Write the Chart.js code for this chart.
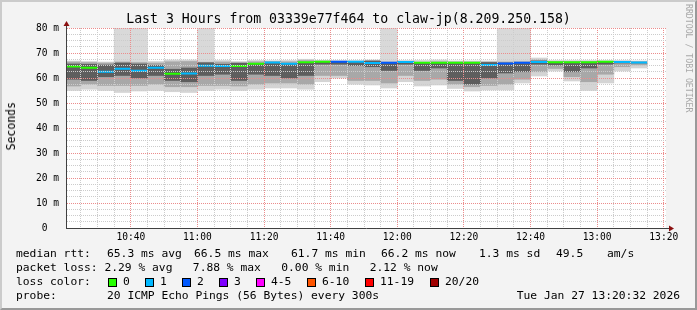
<!DOCTYPE html>
<html>
<head>
<meta charset="utf-8">
<script src="https://cdn.jsdelivr.net/npm/chart.js@4"></script>
<style>
  html, body { margin:0; padding:0; background:#f3f3f3; }
  #wrap { position:relative; width:697px; height:310px; overflow:hidden; }
  #frame { position:absolute; left:0; top:0; width:697px; height:310px; box-sizing:border-box;
           border-top:2px solid #cbcbcb; border-left:2px solid #cbcbcb;
           border-right:2px solid #999; border-bottom:2px solid #999; z-index:0; }
  canvas { position:absolute; left:0; top:0; z-index:1; }
  .t { position:absolute; z-index:2; font-family:'DejaVu Sans Mono', monospace; color:#000;
       white-space:pre; line-height:14px; }
  .lg { font-size:11.3px; }
  .sw { position:absolute; z-index:2; width:7px; height:7px; border:1px solid #000; }
</style>
</head>
<body>
<div id="wrap">
  <div id="frame"></div>
  <canvas id="c" width="697" height="310"></canvas>
  <div class="t" style="left:0;width:697px;text-align:center;top:12px;font-size:13.2px;">Last 3 Hours from 03339e77f464 to claw-jp(8.209.250.158)</div>
  <div class="t" style="left:4px;top:102px;font-size:11.5px;writing-mode:vertical-rl;transform:rotate(180deg);">Seconds</div>
  <div class="t" style="left:682px;top:4px;font-size:8.2px;color:#a8a8a8;writing-mode:vertical-rl;">RRDTOOL / TOBI OETIKER</div>

  <div class="t lg" style="left:16px;top:247px;">median rtt:</div>
  <div class="t lg" style="left:107px;top:247px;">65.3 ms avg</div>
  <div class="t lg" style="left:194px;top:247px;">66.5 ms max</div>
  <div class="t lg" style="left:291px;top:247px;">61.7 ms min</div>
  <div class="t lg" style="left:381px;top:247px;">66.2 ms now</div>
  <div class="t lg" style="left:479px;top:247px;">1.3 ms sd</div>
  <div class="t lg" style="left:556px;top:247px;">49.5</div>
  <div class="t lg" style="left:607px;top:247px;">am/s</div>

  <div class="t lg" style="left:16px;top:261px;">packet loss: 2.29 % avg   7.88 % max   0.00 % min   2.12 % now</div>

  <div class="t lg" style="left:16px;top:275px;">loss color:</div>
  <div id="legendRow"></div>

  <div class="t lg" style="left:16px;top:289px;">probe:</div>
  <div class="t lg" style="left:107px;top:289px;">20 ICMP Echo Pings (56 Bytes) every 300s</div>
  <div class="t lg" style="right:17px;top:289px;">Tue Jan 27 13:20:32 2026</div>
</div>
<script>
// ---- data ----
const times = ["10:20","10:25","10:30","10:35","10:40","10:45","10:50","10:55","11:00","11:05",
               "11:10","11:15","11:20","11:25","11:30","11:35","11:40","11:45","11:50","11:55",
               "12:00","12:05","12:10","12:15","12:20","12:25","12:30","12:35","12:40","12:45",
               "12:50","12:55","13:00","13:05","13:10"];
const median = [64.6,64.1,62.5,63.7,62.9,64.1,61.7,61.8,64.9,64.8,64.8,65.7,66.2,65.7,66.3,66.5,66.5,66.5,66.0,66.1,
                66.4,66.1,66.1,66.1,66.1,65.2,65.8,66.1,66.4,66.3,66.3,66.3,66.5,66.4,66.2];
const lossCount = [0,0,1,1,1,1,0,1,1,1,0,0,1,1,0,0,2,1,1,2,1,0,0,0,0,1,2,2,1,0,0,0,0,1,1];
const outerLo = [55.0,55.5,55.0,54.2,54.8,55.0,54.5,54.2,55.0,55.5,55.0,55.5,56.0,56.0,55.5,58.5,60.0,57.5,57.2,56.0,
                 58.5,56.8,57.2,55.8,54.8,55.2,55.2,58.0,60.8,62.8,58.8,55.0,58.0,62.8,64.0];
const outerHi = [66.8,66.6,66.4,66.8,66.6,66.6,67.2,67.2,66.8,67.0,66.6,67.0,66.9,67.0,67.5,67.0,67.0,67.0,67.2,66.8,
                 67.0,67.0,67.2,66.8,66.8,66.8,67.0,67.0,68.0,67.0,67.0,67.0,67.0,67.0,66.8];
const midLo = [56.8,57.5,57.0,57.0,57.0,57.5,56.5,56.5,57.0,57.0,56.8,57.5,58.0,58.0,57.5,61.0,61.0,59.0,59.0,58.0,
               61.0,59.0,59.5,57.5,56.5,57.0,57.5,59.5,62.5,63.8,60.5,58.5,61.5,64.5,65.2];
const midHi = [66.4,66.2,66.0,66.4,66.2,66.0,66.5,66.6,66.3,66.4,66.2,66.5,66.6,66.5,67.0,66.8,66.6,66.6,66.9,66.4,
               66.6,66.3,66.5,66.4,66.4,66.4,66.4,66.5,67.3,66.6,66.6,66.6,66.6,66.6,66.5];
const coreLo = [59.5,59.0,60.5,61.0,60.0,61.0,59.0,58.5,61.0,61.5,59.0,61.5,61.0,60.0,61.0,65.5,65.5,65.0,64.5,63.0,
                65.5,63.0,64.0,59.0,57.5,60.0,62.0,62.5,65.5,65.2,62.5,64.0,65.5,66.0,66.0];
const coreHi = [65.6,65.5,65.2,66.0,65.6,65.0,63.5,64.0,66.1,65.5,65.9,65.8,66.0,65.5,66.2,66.5,66.5,66.4,66.8,66.0,
                66.4,66.0,66.1,66.0,66.0,66.2,66.0,66.0,66.8,66.0,66.2,66.2,66.4,66.4,66.3];
// lost pings push the smoke to the graph top
const lossCeil = [null,null,null,80,80,null,null,null,80,null,null,null,null,null,null,null,null,null,null,80,
                  null,null,null,null,null,null,80,80,null,null,null,null,null,null,null];
const xTickLabels = ["10:40","11:00","11:20","11:40","12:00","12:20","12:40","13:00","13:20"];
const yTicksMajor = [0,10,20,30,40,50,60,70,80];
const lossLabels = ["0","1","2","3","4-5","6-10","11-19","20/20"];
const lossColors = ["#26ff00","#00b8ff","#0059ff","#7e00ff","#ff00ff","#ff5500","#ff0000","#a00000"];

// ---- helpers ----
const toMin = s => { const [h,m] = s.split(":").map(Number); return h*60+m; };
const xStart = toMin("10:20") + 32/60;   // 10:20:32
const xEnd = toMin("13:20") + 40/60;     // just past 13:20:32
const STEP = 5;
const xs = times.map(t => toMin(t) + STEP/2);
const majorX = xTickLabels.map(toMin);
const gridX = [];
for (let v = Math.ceil(xStart/STEP)*STEP; v <= xEnd; v += STEP) gridX.push(v);
function lossIdx(n){ if(n<=3) return n; if(n<=5) return 4; if(n<=10) return 5; if(n<=19) return 6; return 7; }
const fmt = v => { const i = majorX.indexOf(v); return i >= 0 ? xTickLabels[i] : ''; };
const MAJOR = '#ec8c8c', MINOR = '#cccccc';

// legend swatches
const swX = [108,145,182,219,256,307,365,430];
const row = document.getElementById("legendRow");
lossLabels.forEach((lab,i) => {
  const s = document.createElement("div"); s.className = "sw";
  s.style.left = swX[i]+"px"; s.style.top = "278px"; s.style.background = lossColors[i];
  row.appendChild(s);
  const t = document.createElement("div"); t.className = "t lg";
  t.style.left = (swX[i]+15)+"px"; t.style.top = "275px"; t.textContent = lab;
  row.appendChild(t);
});

const band = (lo, hi) => xs.map((x,i) => ({x, y: (lo[i]==null||hi[i]==null) ? null : [lo[i], hi[i]]}));

const barCommon = { type:'bar', grouped:false, barPercentage:1, categoryPercentage:1, barThickness:16.7,
                    borderWidth:0, borderSkipped:false };

const bgPlugin = {
  id:'bg',
  beforeDraw(chart){
    const {ctx, chartArea:a} = chart;
    ctx.save(); ctx.fillStyle = '#ffffff'; ctx.fillRect(a.left, a.top, a.right-a.left, a.bottom-a.top); ctx.restore();
  },
  afterDraw(chart){
    const {ctx, chartArea:a} = chart;
    ctx.save();
    ctx.strokeStyle = '#404040'; ctx.lineWidth = 1;
    ctx.beginPath();
    ctx.moveTo(a.left+0.5, a.top); ctx.lineTo(a.left+0.5, a.top-3);
    ctx.moveTo(a.right, a.bottom+0.5); ctx.lineTo(a.right+4, a.bottom+0.5);
    ctx.stroke();
    ctx.fillStyle = '#8b1010';
    ctx.beginPath();
    ctx.moveTo(a.left+0.5, a.top-7); ctx.lineTo(a.left-2.5, a.top-2); ctx.lineTo(a.left+3.5, a.top-2); ctx.closePath(); ctx.fill();
    ctx.beginPath();
    ctx.moveTo(a.right+8, a.bottom+0.5); ctx.lineTo(a.right+3, a.bottom-2.5); ctx.lineTo(a.right+3, a.bottom+3.5); ctx.closePath(); ctx.fill();
    ctx.restore();
  }
};

new Chart(document.getElementById('c'), {
  data: {
    datasets: [
      { ...barCommon, label:'loss', data: band(outerHi, lossCeil), backgroundColor:'#d9d9d9', order:5 },
      { ...barCommon, label:'smoke outer', data: band(outerLo, outerHi), backgroundColor:'#d4d4d4', order:4 },
      { ...barCommon, label:'smoke mid', data: band(midLo, midHi), backgroundColor:'#a8a8a8', order:3 },
      { ...barCommon, label:'smoke core', data: band(coreLo, coreHi), backgroundColor:'#5e5e5e', order:2 },
      { type:'line', label:'median', data: xs.map((x,i)=>({x, y: median[i]})), showLine:false,
        pointStyle:'line', pointRadius:8.33, pointHoverRadius:8.33, pointBorderWidth:2,
        pointBorderColor: lossCount.map(n => lossColors[lossIdx(n)]),
        pointBackgroundColor: lossCount.map(n => lossColors[lossIdx(n)]), order:1 }
    ]
  },
  options: {
    responsive:false, animation:false, events:[],
    layout:{ padding:{ left:0, right:31, top:28, bottom:0 } },
    plugins:{ legend:{display:false}, tooltip:{enabled:false}, title:{display:false} },
    scales:{
      x:{
        type:'linear', min:xStart, max:xEnd, bounds:'data', offset:false,
        afterFit: s => { s.height = 82; },
        afterBuildTicks: s => { s.ticks = gridX.map(v => ({ value: v })); },
        ticks:{ autoSkip:false, maxRotation:0, padding:4,
                color:'#000', font:{ family:'DejaVu Sans Mono', size:9.6 },
                callback: v => fmt(v) },
        grid:{ drawTicks:false, z:1, lineWidth:1, offset:false,
               color: c => (c.tick && majorX.includes(c.tick.value)) ? MAJOR : MINOR },
        border:{ color:'#404040', width:1, dash:[1,1], z:2 }
      },
      y:{
        min:0, max:80, bounds:'data',
        afterFit: s => { s.width = 66; },
        ticks:{ stepSize:2.5, autoSkip:false, padding:7, color:'#000',
                font:{ family:'DejaVu Sans Mono', size:9.6 },
                callback: v => yTicksMajor.includes(v) ? (v === 0 ? '0  ' : v + ' m') : '' },
        grid:{ drawTicks:false, z:1, lineWidth:1,
               color: c => (c.tick && yTicksMajor.includes(c.tick.value)) ? MAJOR : MINOR },
        border:{ color:'#404040', width:1, dash:[1,1], z:2 }
      }
    }
  },
  plugins:[bgPlugin]
});
</script>
</body>
</html>
